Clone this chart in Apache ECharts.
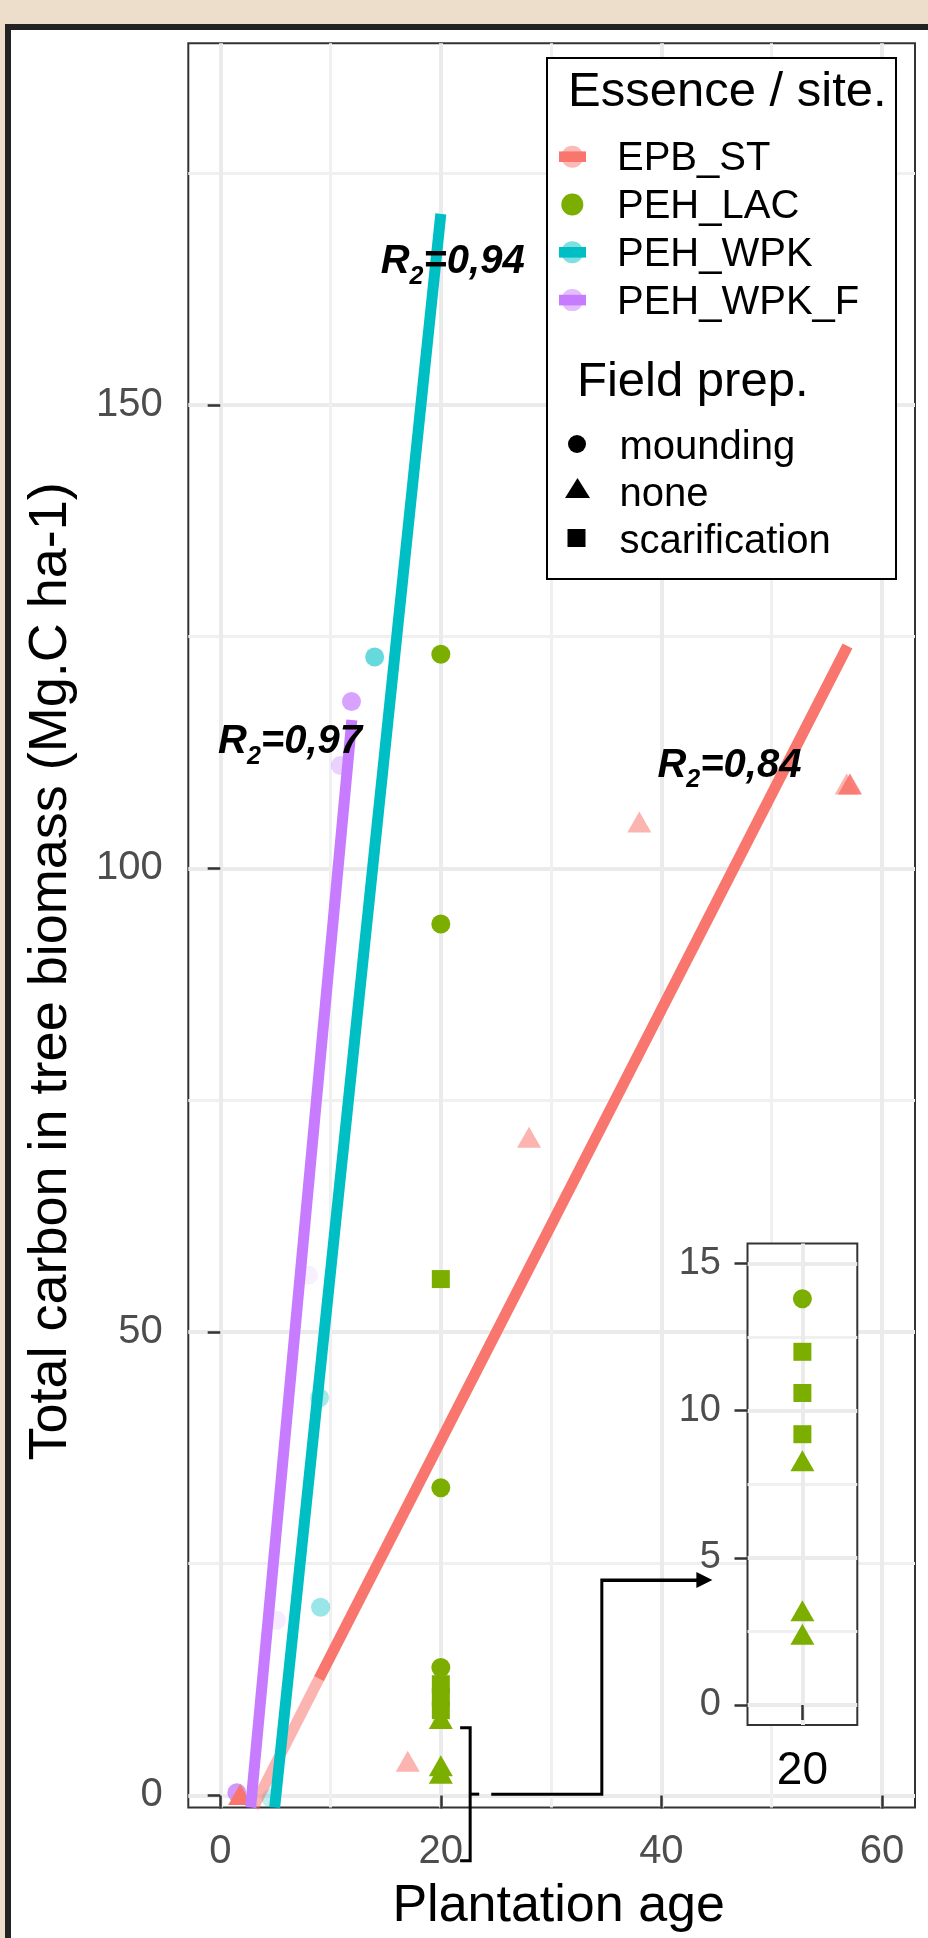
<!DOCTYPE html>
<html>
<head>
<meta charset="utf-8">
<script src="https://cdn.jsdelivr.net/npm/echarts@6/dist/echarts.min.js"></script>
<style>
  html, body { margin: 0; padding: 0; background: #EDDDCB; }
  body { position: relative; width: 928px; height: 1938px; overflow: hidden; }
  .frame { position: absolute; left: 5px; top: 24px; width: 960px; height: 1950px; background: #fff; border: 6px solid #222; box-sizing: border-box; }
  #main { position: absolute; left: 0; top: 0; width: 928px; height: 1938px; }
</style>
</head>
<body>
<div class="frame"></div>
<div id="main"></div>
<script>
// categories
const essences = ['EPB_ST', 'PEH_LAC', 'PEH_WPK', 'PEH_WPK_F']
const fieldPreps = ['mounding', 'none', 'scarification']

// points: [plantation age, carbon Mg.C/ha, field prep index, alpha]
const ptsEPB = [[1.8, 0.1, 1, 1], [17, 3.7, 1, 0.55], [28, 71.0, 1, 0.55], [38, 105.0, 1, 0.55], [56.8, 109.1, 1, 0.55], [57.1, 109.1, 1, 0.9]]
const ptsLAC = [[20, 123.1, 0, 1], [20, 94.0, 0, 1], [20, 55.7, 2, 1], [20, 33.2, 0, 1], [20, 13.8, 0, 1], [20, 12.0, 2, 1],
  [20, 10.6, 2, 1], [20, 9.2, 2, 1], [20, 8.3, 1, 1], [20, 3.2, 1, 1], [20, 2.4, 1, 1]]
const ptsWPK = [[14, 122.8, 0, 0.6], [9.0, 42.9, 0, 0.35], [9.1, 20.3, 0, 0.4], [4.6, -0.3, 0, 0.25]]
const ptsWPKF = [[11.9, 118.0, 0, 0.7], [10.9, 111.1, 0, 0.35], [8.0, 56.1, 0, 0.12], [5.1, 18.9, 0, 0.15], [1.5, 0.3, 0, 0.8]]

// fitted lines (end points)
const fitEPBfaint = [[3.0, -1.3], [8.95, 12.6]]
const fitEPB = [[8.95, 12.6], [56.88, 124.0]]
const fitWPK = [[4.93, -1.3], [20, 170.6]]
const fitWPKF = [[2.75, -1.3], [11.93, 116.0]]

// R2 annotations
const r2Text = ['0,94', '0,97', '0,84']
const r2Anchor = [[14.5, 165.4], [-0.25, 113.6], [39.6, 111.1]]

// bracket + arrow to the zoom panel (data units of main panel)
const bracket = [[21.75, 7.31], [22.66, 7.31], [22.66, -7.04], [21.75, -7.04]]
const bracketTick = [[22.66, 0.14], [23.48, 0.14]]
const arrowPath = [[24.57, 0.14], [34.6, 0.14], [34.6, 23.25], [43.9, 23.25]]
const arrowHead = [[34.6, 23.25], [43.9, 23.25]]

// ticks
const xTicks = [0, 20, 40, 60]
const xMinor = [10, 30, 50]
const yTicks = [0, 50, 100, 150]
const yMinor = [25, 75, 125, 175]
const insetXTicks = [20]
const insetYTicks = [0, 5, 10, 15]
const insetYMinor = [2.5, 7.5, 12.5]

const FONT = '"Liberation Sans", Arial, sans-serif'
const palette = { EPB_ST: '#F8766D', PEH_LAC: '#7CAE00', PEH_WPK: '#00BFC4', PEH_WPK_F: '#C77CFF' }
const hasFit = { EPB_ST: true, PEH_LAC: false, PEH_WPK: true, PEH_WPK_F: true }
const shapes = ['circle', 'triangle', 'rect']
const shapeSizes = [19, [24, 21], 18]

const chart = echarts.init(document.getElementById('main'))

function pointSeries (name, pts, xi, yi, z) {
  return {
    name: name,
    type: 'scatter',
    xAxisIndex: xi,
    yAxisIndex: yi,
    z: z,
    silent: true,
    symbol: v => shapes[v[2]],
    symbolSize: v => shapeSizes[v[2]],
    itemStyle: { color: palette[name] },
    data: pts.map(p => ({ value: p, itemStyle: { opacity: p[3] } }))
  }
}

function fitSeries (name, pts, opacity) {
  return {
    type: 'line',
    xAxisIndex: 0,
    yAxisIndex: 0,
    z: 3,
    silent: true,
    symbol: 'none',
    lineStyle: { color: palette[name], width: 11, opacity: opacity },
    data: pts
  }
}

function gridAxis (opt) {
  // shared look of the ggplot-like axes
  return Object.assign({
    type: 'value',
    axisLine: { show: false },
    splitLine: { show: true, lineStyle: { color: '#EBEBEB', width: 4 } },
    nameMoveOverlap: false
  }, opt)
}

// legend drawn by hand (two titled blocks)
const g = []
g.push({ type: 'rect', z: 100, shape: { x: 547, y: 58, width: 349, height: 521 }, style: { fill: '#fff', stroke: '#000', lineWidth: 2 } })
g.push({ type: 'text', z: 101, x: 568, y: 92, style: { text: 'Essence / site.', fontSize: 49, fontFamily: FONT, fill: '#000', verticalAlign: 'middle' } })
essences.forEach((e, i) => {
  const cy = 156.7 + i * 47.8
  g.push({ type: 'circle', z: 101, shape: { cx: 572.3, cy: cy, r: 11 }, style: { fill: palette[e], opacity: hasFit[e] ? 0.5 : 1 } })
  if (hasFit[e]) g.push({ type: 'rect', z: 102, shape: { x: 559, y: cy - 5.3, width: 27, height: 10.6 }, style: { fill: palette[e] } })
  g.push({ type: 'text', z: 101, x: 617, y: cy + 2.5, style: { text: e, fontSize: 40, fontFamily: FONT, fill: '#000', verticalAlign: 'middle' } })
})
g.push({ type: 'text', z: 101, x: 577, y: 382, style: { text: 'Field prep.', fontSize: 49, fontFamily: FONT, fill: '#000', verticalAlign: 'middle' } })
const prepKeyY = [444, 488, 538]
fieldPreps.forEach((f, i) => {
  const cy = prepKeyY[i]
  if (i === 0) g.push({ type: 'circle', z: 101, shape: { cx: 577, cy: cy, r: 9 }, style: { fill: '#000' } })
  if (i === 1) g.push({ type: 'polygon', z: 101, shape: { points: [[577.5, cy - 10], [590, cy + 10], [565, cy + 10]] }, style: { fill: '#000' } })
  if (i === 2) g.push({ type: 'rect', z: 101, shape: { x: 567.5, y: cy - 9, width: 18, height: 18 }, style: { fill: '#000' } })
  g.push({ type: 'text', z: 101, x: 619.5, y: 447.7 + i * 47, style: { text: f, fontSize: 40, fontFamily: FONT, fill: '#000', verticalAlign: 'middle' } })
})

const labelFont = { fontFamily: FONT, fontWeight: 'bold', fontStyle: 'italic', color: '#000', opacity: 1 }

chart.setOption({
  animation: false,
  backgroundColor: 'transparent',
  grid: [
    { left: 188.3, top: 43.3, right: 13, bottom: 127.5, show: true, backgroundColor: '#fff', borderColor: '#333', borderWidth: 2 },
    { left: 747.5, top: 1243.5, width: 109.8, height: 481.5, show: true, backgroundColor: '#fff', borderColor: '#333', borderWidth: 2, z: 4 }
  ],
  xAxis: [
    gridAxis({
      gridIndex: 0, min: -2.9, max: 63.0,
      axisTick: { show: true, customValues: xTicks, length: 13, lineStyle: { color: '#333', width: 2.5 } },
      axisLabel: { customValues: xTicks, color: '#4D4D4D', fontSize: 40, fontFamily: FONT, margin: 24 },
      name: 'Plantation age', nameLocation: 'middle', nameGap: 73.5,
      nameTextStyle: { fontSize: 52, fontFamily: FONT, color: '#000', padding: [0, 0, 0, 14] }
    }),
    gridAxis({
      gridIndex: 0, min: -2.9, max: 63.0, position: 'bottom',
      axisTick: { show: false, customValues: xMinor },
      axisLabel: { show: false },
      splitLine: { show: true, lineStyle: { color: '#F0F0F0', width: 3 } }
    }),
    gridAxis({
      gridIndex: 1, min: 19, max: 21, z: 5,
      axisTick: { show: true, customValues: insetXTicks, length: 15, lineStyle: { color: '#333', width: 2.5 } },
      axisLabel: { customValues: insetXTicks, color: '#000', fontSize: 46, fontFamily: FONT, margin: 23.7 }
    })
  ],
  yAxis: [
    gridAxis({
      gridIndex: 0, min: -1.3, max: 189.0,
      axisTick: { show: true, customValues: yTicks, length: 12.6, lineStyle: { color: '#333', width: 2.5 } },
      axisLabel: { customValues: yTicks, color: '#4D4D4D', fontSize: 40, fontFamily: FONT, margin: 25.6 },
      name: 'Total carbon in tree biomass (Mg.C ha-1)', nameLocation: 'middle', nameGap: 110,
      nameTextStyle: { fontSize: 54, fontFamily: FONT, color: '#000', padding: [0, 92, 0, 0] }
    }),
    gridAxis({
      gridIndex: 0, min: -1.3, max: 189.0, position: 'left',
      axisTick: { show: false, customValues: yMinor },
      axisLabel: { show: false },
      splitLine: { show: true, lineStyle: { color: '#F0F0F0', width: 3 } }
    }),
    gridAxis({
      gridIndex: 1, min: -0.68, max: 15.68, z: 5,
      axisTick: { show: true, customValues: insetYTicks, length: 13, lineStyle: { color: '#333', width: 2.5 } },
      axisLabel: { customValues: insetYTicks, color: '#4D4D4D', fontSize: 38, fontFamily: FONT, margin: 26.5 }
    }),
    gridAxis({
      gridIndex: 1, min: -0.68, max: 15.68, position: 'left', z: 5,
      axisTick: { show: false, customValues: insetYMinor },
      axisLabel: { show: false },
      splitLine: { show: true, lineStyle: { color: '#F0F0F0', width: 3 } }
    })
  ],
  graphic: g,
  series: [
    pointSeries('PEH_WPK_F', ptsWPKF, 0, 0, 2),
    pointSeries('PEH_WPK', ptsWPK, 0, 0, 2),
    pointSeries('PEH_LAC', ptsLAC, 0, 0, 2),
    pointSeries('EPB_ST', ptsEPB, 0, 0, 2),
    fitSeries('EPB_ST', fitEPBfaint, 0.55),
    fitSeries('EPB_ST', fitEPB, 1),
    fitSeries('PEH_WPK', fitWPK, 1),
    fitSeries('PEH_WPK_F', fitWPKF, 1),
    {
      type: 'scatter',
      xAxisIndex: 0,
      yAxisIndex: 0,
      z: 7,
      silent: true,
      symbolSize: 1,
      itemStyle: { color: 'rgba(0,0,0,0)' },
      label: {
        show: true,
        position: 'right',
        distance: 0,
        color: '#000',
        opacity: 1,
        textBorderWidth: 0,
        formatter: p => '{b|R}{s|2}{b|=' + r2Text[p.dataIndex] + '}',
        rich: {
          b: Object.assign({ fontSize: 40 }, labelFont),
          s: Object.assign({ fontSize: 25, padding: [30, 0, 0, 0] }, labelFont)
        }
      },
      data: r2Anchor
    },
    {
      type: 'lines',
      coordinateSystem: 'cartesian2d',
      xAxisIndex: 0,
      yAxisIndex: 0,
      polyline: true,
      clip: false,
      z: 3,
      silent: true,
      lineStyle: { color: '#000', width: 3, opacity: 1 },
      data: [{ coords: bracket }, { coords: bracketTick }, { coords: arrowPath }]
    },
    {
      type: 'lines',
      coordinateSystem: 'cartesian2d',
      xAxisIndex: 0,
      yAxisIndex: 0,
      clip: false,
      z: 3,
      silent: true,
      symbol: ['none', 'triangle'],
      symbolSize: 16,
      lineStyle: { color: '#000', width: 3, opacity: 1, curveness: 0 },
      data: [{ coords: arrowHead }]
    },
    pointSeries('PEH_LAC', ptsLAC.filter(p => p[1] < 15), 2, 2, 6)
  ]
})
</script>
</body>
</html>
